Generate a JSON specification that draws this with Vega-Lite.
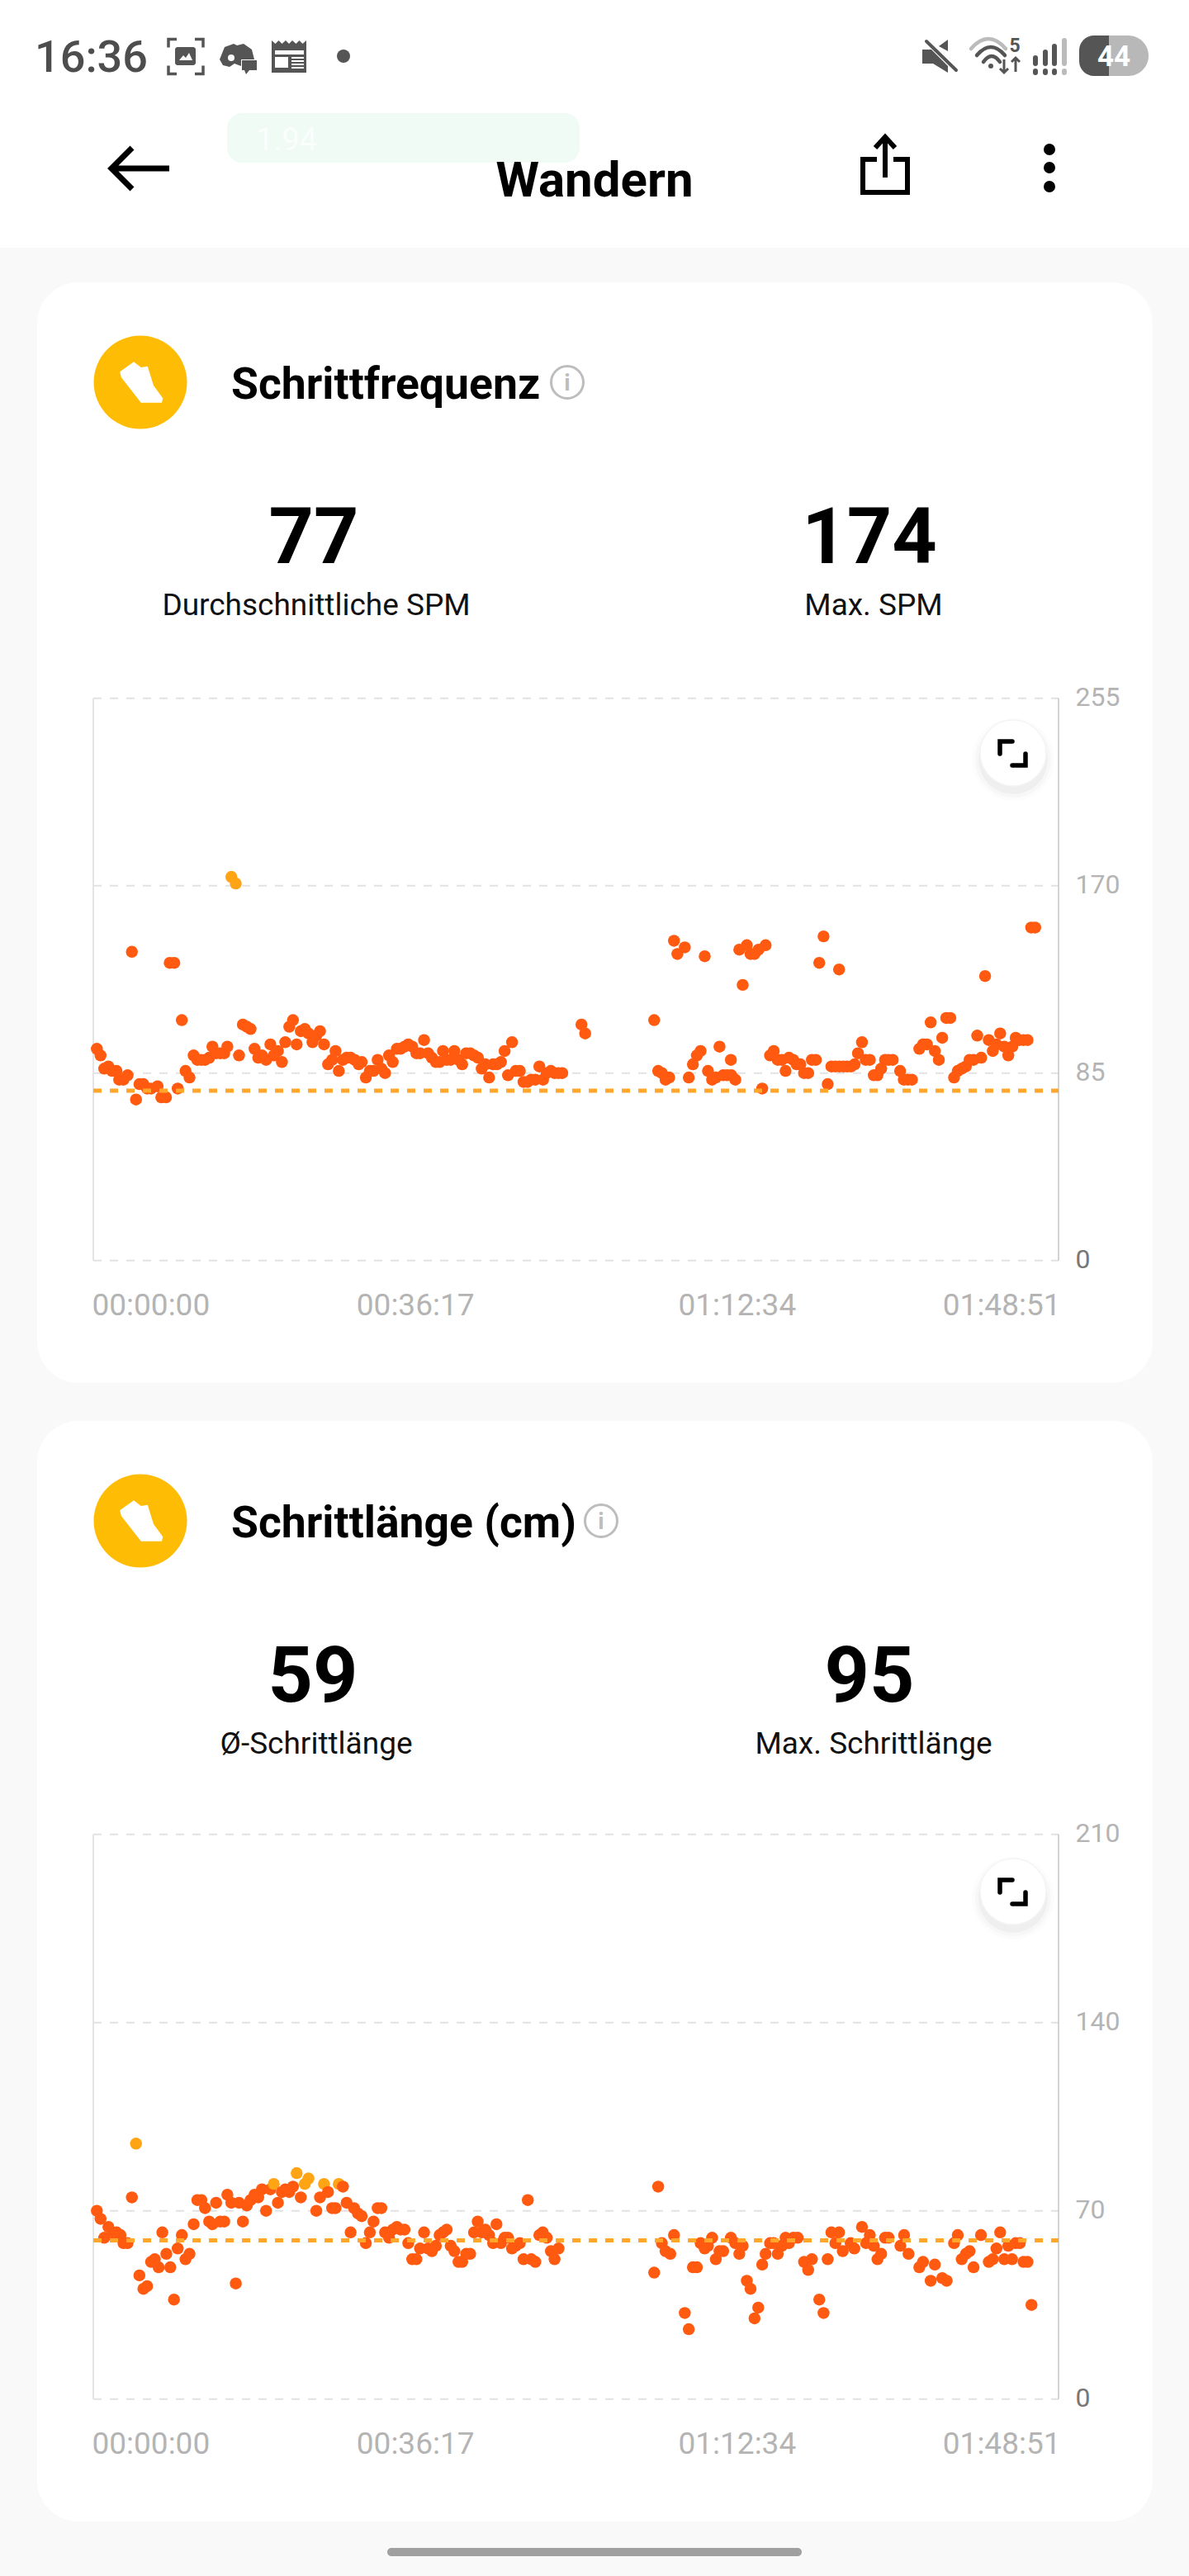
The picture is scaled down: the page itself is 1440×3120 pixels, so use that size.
{
  "$schema": "https://vega.github.io/schema/vega-lite/v6.json",
  "width": 1440,
  "height": 3120,
  "autosize": {"type": "fit", "contains": "padding"},
  "padding": 0,
  "background": "#F9F9F9",
  "config": {"view": {"stroke": null}, "font": "Roboto"},
  "data": {"values": [{}]},
  "datasets": {
    "cadence": [
      {"t":24,"v":96},{"t":49,"v":93},{"t":74,"v":87},{"t":102,"v":88},{"t":127,"v":86},{"t":157,"v":86},{"t":175,"v":82},{"t":204,"v":82},{"t":232,"v":84},{"t":261,"v":140},{"t":289,"v":73},{"t":312,"v":80},{"t":339,"v":80},{"t":364,"v":78},{"t":391,"v":78},{"t":435,"v":79},{"t":460,"v":74},{"t":492,"v":74},{"t":517,"v":135},{"t":548,"v":135},{"t":571,"v":78},{"t":599,"v":109},{"t":624,"v":86},{"t":651,"v":83},{"t":679,"v":93},{"t":704,"v":91},{"t":731,"v":91},{"t":756,"v":91},{"t":784,"v":92},{"t":806,"v":97},{"t":831,"v":94},{"t":859,"v":94},{"t":886,"v":94},{"t":907,"v":97},{"t":934,"v":174},{"t":964,"v":171},{"t":986,"v":93},{"t":1012,"v":107},{"t":1039,"v":106},{"t":1064,"v":105},{"t":1091,"v":96},{"t":1116,"v":92},{"t":1141,"v":93},{"t":1169,"v":91},{"t":1198,"v":98},{"t":1221,"v":93},{"t":1249,"v":95},{"t":1276,"v":90},{"t":1299,"v":99},{"t":1326,"v":106},{"t":1351,"v":109},{"t":1376,"v":98},{"t":1404,"v":104},{"t":1431,"v":105},{"t":1456,"v":103},{"t":1483,"v":99},{"t":1509,"v":102},{"t":1534,"v":104},{"t":1561,"v":98},{"t":1588,"v":89},{"t":1616,"v":91},{"t":1639,"v":95},{"t":1661,"v":86},{"t":1689,"v":91},{"t":1714,"v":92},{"t":1741,"v":92},{"t":1768,"v":91},{"t":1796,"v":89},{"t":1816,"v":90},{"t":1844,"v":83},{"t":1871,"v":86},{"t":1896,"v":86},{"t":1924,"v":91},{"t":1949,"v":87},{"t":1974,"v":85},{"t":2001,"v":93},{"t":2026,"v":90},{"t":2054,"v":96},{"t":2079,"v":96},{"t":2106,"v":97},{"t":2131,"v":98},{"t":2158,"v":97},{"t":2186,"v":94},{"t":2211,"v":94},{"t":2238,"v":100},{"t":2265,"v":94},{"t":2291,"v":92},{"t":2318,"v":90},{"t":2343,"v":90},{"t":2366,"v":95},{"t":2391,"v":91},{"t":2418,"v":91},{"t":2443,"v":95},{"t":2471,"v":91},{"t":2496,"v":89},{"t":2523,"v":94},{"t":2550,"v":94},{"t":2576,"v":93},{"t":2603,"v":92},{"t":2628,"v":87},{"t":2653,"v":89},{"t":2678,"v":83},{"t":2705,"v":89},{"t":2731,"v":89},{"t":2758,"v":90},{"t":2783,"v":95},{"t":2806,"v":84},{"t":2833,"v":99},{"t":2858,"v":86},{"t":2886,"v":86},{"t":2911,"v":81},{"t":2938,"v":81},{"t":2963,"v":82},{"t":2991,"v":82},{"t":3018,"v":88},{"t":3043,"v":82},{"t":3068,"v":85},{"t":3096,"v":86},{"t":3121,"v":85},{"t":3148,"v":85},{"t":3173,"v":85},{"t":3303,"v":107},{"t":3328,"v":103},
      {"t":3795,"v":109},{"t":3822,"v":86},{"t":3847,"v":85},{"t":3872,"v":82},{"t":3897,"v":83},{"t":3929,"v":145},{"t":3952,"v":139},{"t":4002,"v":142},{"t":4029,"v":83},{"t":4057,"v":89},{"t":4084,"v":93},{"t":4109,"v":95},{"t":4137,"v":138},{"t":4159,"v":86},{"t":4187,"v":82},{"t":4212,"v":83},{"t":4237,"v":97},{"t":4262,"v":84},{"t":4289,"v":84},{"t":4314,"v":91},{"t":4317,"v":84},{"t":4344,"v":82},{"t":4371,"v":141},{"t":4394,"v":125},{"t":4422,"v":143},{"t":4447,"v":139},{"t":4474,"v":139},{"t":4501,"v":141},{"t":4526,"v":78},{"t":4549,"v":143},{"t":4579,"v":93},{"t":4604,"v":95},{"t":4631,"v":91},{"t":4659,"v":91},{"t":4684,"v":86},{"t":4707,"v":92},{"t":4736,"v":91},{"t":4759,"v":89},{"t":4784,"v":89},{"t":4809,"v":85},{"t":4837,"v":85},{"t":4862,"v":91},{"t":4889,"v":91},{"t":4912,"v":135},{"t":4941,"v":147},{"t":4969,"v":80},{"t":4994,"v":88},{"t":5021,"v":88},{"t":5046,"v":132},{"t":5049,"v":88},{"t":5076,"v":88},{"t":5101,"v":88},{"t":5128,"v":88},{"t":5151,"v":89},{"t":5174,"v":94},{"t":5201,"v":99},{"t":5226,"v":91},{"t":5254,"v":91},{"t":5281,"v":84},{"t":5306,"v":84},{"t":5331,"v":87},{"t":5357,"v":91},{"t":5381,"v":91},{"t":5409,"v":91},{"t":5459,"v":86},{"t":5484,"v":82},{"t":5511,"v":82},{"t":5539,"v":82},{"t":5589,"v":96},{"t":5614,"v":98},{"t":5641,"v":98},{"t":5666,"v":108},{"t":5694,"v":95},{"t":5721,"v":91},{"t":5744,"v":101},{"t":5771,"v":110},{"t":5799,"v":110},{"t":5824,"v":83},{"t":5849,"v":86},{"t":5876,"v":87},{"t":5904,"v":88},{"t":5929,"v":91},{"t":5956,"v":91},{"t":5981,"v":102},{"t":6008,"v":92},{"t":6034,"v":129},{"t":6059,"v":100},{"t":6086,"v":95},{"t":6111,"v":98},{"t":6136,"v":103},{"t":6164,"v":97},{"t":6191,"v":93},{"t":6218,"v":97},{"t":6241,"v":101},{"t":6266,"v":100},{"t":6293,"v":100},{"t":6321,"v":100},{"t":6346,"v":151},{"t":6373,"v":151}
    ],
    "stride": [
      {"t":24,"v":70},{"t":49,"v":67},{"t":74,"v":60},{"t":102,"v":64},{"t":127,"v":61},{"t":157,"v":62},{"t":184,"v":61},{"t":204,"v":58},{"t":232,"v":58},{"t":261,"v":75},{"t":289,"v":95},{"t":312,"v":46},{"t":339,"v":41},{"t":364,"v":42},{"t":391,"v":51},{"t":416,"v":52},{"t":442,"v":49},{"t":467,"v":62},{"t":494,"v":54},{"t":521,"v":49},{"t":546,"v":37},{"t":571,"v":56},{"t":599,"v":61},{"t":624,"v":52},{"t":651,"v":54},{"t":679,"v":65},{"t":704,"v":74},{"t":731,"v":74},{"t":756,"v":71},{"t":784,"v":66},{"t":806,"v":65},{"t":831,"v":73},{"t":859,"v":66},{"t":886,"v":66},{"t":907,"v":76},{"t":934,"v":73},{"t":964,"v":43},{"t":986,"v":73},{"t":1012,"v":66},{"t":1039,"v":72},{"t":1064,"v":74},{"t":1091,"v":76},{"t":1116,"v":75},{"t":1141,"v":78},{"t":1169,"v":70},{"t":1198,"v":78},{"t":1221,"v":80},{"t":1249,"v":73},{"t":1276,"v":77},{"t":1299,"v":78},{"t":1326,"v":77},{"t":1351,"v":79},{"t":1376,"v":84},{"t":1404,"v":75},{"t":1431,"v":80},{"t":1456,"v":82},{"t":1509,"v":70},{"t":1534,"v":75},{"t":1561,"v":80},{"t":1588,"v":77},{"t":1616,"v":71},{"t":1639,"v":71},{"t":1661,"v":80},{"t":1689,"v":79},{"t":1714,"v":73},{"t":1741,"v":62},{"t":1764,"v":71},{"t":1791,"v":69},{"t":1816,"v":68},{"t":1844,"v":58},{"t":1871,"v":62},{"t":1896,"v":66},{"t":1924,"v":71},{"t":1949,"v":71},{"t":1974,"v":62},{"t":2001,"v":60},{"t":2026,"v":63},{"t":2054,"v":64},{"t":2079,"v":63},{"t":2106,"v":63},{"t":2131,"v":58},{"t":2158,"v":52},{"t":2186,"v":52},{"t":2211,"v":56},{"t":2238,"v":62},{"t":2265,"v":56},{"t":2291,"v":55},{"t":2318,"v":57},{"t":2343,"v":61},{"t":2366,"v":62},{"t":2391,"v":63},{"t":2418,"v":57},{"t":2443,"v":55},{"t":2471,"v":51},{"t":2496,"v":51},{"t":2523,"v":54},{"t":2550,"v":54},{"t":2576,"v":62},{"t":2601,"v":66},{"t":2628,"v":62},{"t":2653,"v":63},{"t":2678,"v":61},{"t":2705,"v":58},{"t":2728,"v":65},{"t":2758,"v":58},{"t":2783,"v":60},{"t":2806,"v":60},{"t":2833,"v":56},{"t":2858,"v":57},{"t":2886,"v":58},{"t":2911,"v":52},{"t":2940,"v":74},{"t":2963,"v":52},{"t":2991,"v":51},{"t":3018,"v":61},{"t":3041,"v":62},{"t":3068,"v":60},{"t":3096,"v":55},{"t":3121,"v":52},{"t":3148,"v":56},
      {"t":3795,"v":47},{"t":3822,"v":79},{"t":3847,"v":58},{"t":3872,"v":55},{"t":3904,"v":54},{"t":3929,"v":61},{"t":4002,"v":32},{"t":4029,"v":26},{"t":4057,"v":49},{"t":4084,"v":49},{"t":4109,"v":58},{"t":4137,"v":56},{"t":4159,"v":57},{"t":4187,"v":60},{"t":4212,"v":52},{"t":4237,"v":55},{"t":4262,"v":55},{"t":4314,"v":60},{"t":4344,"v":58},{"t":4371,"v":54},{"t":4394,"v":57},{"t":4422,"v":44},{"t":4447,"v":41},{"t":4474,"v":30},{"t":4499,"v":34},{"t":4526,"v":50},{"t":4549,"v":54},{"t":4579,"v":58},{"t":4604,"v":58},{"t":4631,"v":54},{"t":4659,"v":57},{"t":4684,"v":60},{"t":4707,"v":58},{"t":4736,"v":60},{"t":4766,"v":60},{"t":4809,"v":51},{"t":4837,"v":48},{"t":4862,"v":52},{"t":4912,"v":37},{"t":4941,"v":32},{"t":4969,"v":52},{"t":4994,"v":62},{"t":5021,"v":58},{"t":5046,"v":62},{"t":5071,"v":55},{"t":5124,"v":58},{"t":5149,"v":56},{"t":5201,"v":64},{"t":5229,"v":58},{"t":5254,"v":61},{"t":5281,"v":57},{"t":5306,"v":52},{"t":5331,"v":54},{"t":5357,"v":60},{"t":5381,"v":60},{"t":5461,"v":57},{"t":5486,"v":61},{"t":5516,"v":54},{"t":5589,"v":49},{"t":5614,"v":51},{"t":5666,"v":44},{"t":5694,"v":50},{"t":5744,"v":45},{"t":5774,"v":44},{"t":5824,"v":58},{"t":5849,"v":61},{"t":5876,"v":52},{"t":5904,"v":54},{"t":5929,"v":55},{"t":5956,"v":49},{"t":6006,"v":61},{"t":6059,"v":51},{"t":6086,"v":52},{"t":6111,"v":56},{"t":6136,"v":62},{"t":6164,"v":52},{"t":6191,"v":57},{"t":6216,"v":52},{"t":6241,"v":58},{"t":6269,"v":58},{"t":6294,"v":51},{"t":6321,"v":51},{"t":6348,"v":35}
    ]
  },
  "resolve": {"scale": {"x": "independent", "y": "independent", "color": "independent"}},
  "layer": [
    {"mark": {"type": "rect", "color": "#FFFFFF"}, "encoding": {"x": {"value": 0}, "x2": {"value": 1440}, "y": {"value": 0}, "y2": {"value": 300}}},
    {"mark": {"type": "rect", "color": "#F0FBF6", "cornerRadius": 18}, "encoding": {"x": {"value": 275}, "x2": {"value": 702}, "y": {"value": 137}, "y2": {"value": 197}}},
    {"mark": {"type": "rect", "color": "#FFFFFF", "cornerRadius": 50}, "encoding": {"x": {"value": 45}, "x2": {"value": 1396}, "y": {"value": 342}, "y2": {"value": 1675}}},
    {"mark": {"type": "rect", "color": "#FFFFFF", "cornerRadius": 50}, "encoding": {"x": {"value": 45}, "x2": {"value": 1396}, "y": {"value": 1721}, "y2": {"value": 3054}}},
    {"mark": {"type": "rect", "color": "#A0A0A0", "cornerRadius": 5}, "encoding": {"x": {"value": 469}, "x2": {"value": 971}, "y": {"value": 3086}, "y2": {"value": 3096}}},

    {"mark": {"type": "text", "text": "16:36", "x": 42, "y": 87, "align": "left", "baseline": "alphabetic", "fontSize": 54, "fontWeight": 500, "color": "#4D4D4D"}},
    {"mark": {"type": "point", "shape": "M-0.42,-0.22L-0.42,-0.42L-0.22,-0.42M0.22,-0.42L0.42,-0.42L0.42,-0.22M0.42,0.22L0.42,0.42L0.22,0.42M-0.22,0.42L-0.42,0.42L-0.42,0.22", "x": 225, "y": 68.5, "size": 10000, "filled": false, "stroke": "#555555", "strokeWidth": 3.5, "opacity": 1}},
    {"mark": {"type": "rect", "color": "#555555", "cornerRadius": 3}, "encoding": {"x": {"value": 212}, "x2": {"value": 237}, "y": {"value": 57}, "y2": {"value": 79}}},
    {"mark": {"type": "point", "shape": "M-0.16,0.1L-0.06,-0.02L0,0.04L0.08,-0.08L0.16,0.1Z", "x": 225, "y": 68, "size": 10000, "filled": true, "color": "#FFFFFF", "opacity": 1}},
    {"mark": {"type": "point", "shape": "M-0.42,0.08L-0.3,-0.22L-0.08,-0.3L0,-0.26L0.16,-0.3L0.36,-0.16L0.42,0.08L0.1,0.08L0.1,0.24L-0.06,0.18L-0.18,0.26L-0.34,0.22ZM0.12,0.1L0.48,0.1L0.48,0.34L0.3,0.34L0.22,0.44L0.18,0.34L0.12,0.34Z", "x": 287, "y": 68, "size": 10000, "filled": true, "color": "#555555", "opacity": 1}},
    {"mark": {"type": "circle", "x": 280, "y": 70, "size": 64, "color": "#FFFFFF", "opacity": 1}},
    {"mark": {"type": "point", "shape": "M-0.42,-0.38L-0.33,-0.3L-0.25,-0.38L-0.17,-0.3L-0.08,-0.38L0,-0.3L0.08,-0.38L0.17,-0.3L0.25,-0.38L0.33,-0.3L0.42,-0.38L0.42,0.4L-0.42,0.4ZM-0.34,-0.14L-0.34,-0.04L0.36,-0.04L0.36,-0.14ZM-0.34,0.02L-0.34,0.28L-0.02,0.28L-0.02,0.02ZM0.06,0.02L0.06,0.06L0.36,0.06L0.36,0.02ZM0.06,0.1L0.06,0.14L0.36,0.14L0.36,0.1ZM0.06,0.18L0.06,0.22L0.36,0.22L0.36,0.18ZM0.06,0.26L0.06,0.3L0.36,0.3L0.36,0.26Z", "x": 350, "y": 68, "size": 10000, "filled": true, "color": "#555555", "opacity": 1}},
    {"mark": {"type": "circle", "x": 416, "y": 68, "size": 256, "color": "#555555", "opacity": 1}},

    {"mark": {"type": "point", "shape": "M-0.32,-0.16L-0.1,-0.16L0.3,0.24L0.3,0.4L-0.06,0.18L-0.32,0.18ZM0.08,-0.24L0.3,-0.4L0.3,-0.12Z", "x": 1133, "y": 68, "size": 10000, "filled": true, "color": "#555555", "opacity": 1}},
    {"mark": {"type": "point", "shape": "M-0.22,-0.36L0.5,0.34", "x": 1133, "y": 68, "size": 10000, "filled": false, "stroke": "#555555", "strokeWidth": 4, "strokeCap": "round", "opacity": 1}},
    {"mark": {"type": "point", "shape": "M-0.48,-0.18Q-0.06,-0.66,0.36,-0.18", "x": 1200, "y": 68, "size": 10000, "filled": false, "stroke": "#BBBBBB", "strokeWidth": 4.5, "strokeCap": "round", "opacity": 1}},
    {"mark": {"type": "point", "shape": "M-0.34,-0.02Q0,-0.42,0.34,-0.02M-0.18,0.14Q0.02,-0.14,0.22,0.14", "x": 1200, "y": 68, "size": 10000, "filled": false, "stroke": "#555555", "strokeWidth": 4.5, "strokeCap": "round", "opacity": 1}},
    {"mark": {"type": "point", "shape": "M0.32,0.08L0.32,0.4M0.22,0.3L0.32,0.4L0.42,0.3M0.6,0.38L0.6,0.04M0.5,0.14L0.6,0.04L0.7,0.14", "x": 1200, "y": 68, "size": 10000, "filled": false, "stroke": "#555555", "strokeWidth": 3, "opacity": 1}},
    {"mark": {"type": "circle", "x": 1200, "y": 80, "size": 36, "color": "#555555", "opacity": 1}},
    {"mark": {"type": "text", "text": "5", "x": 1229, "y": 63, "align": "center", "baseline": "alphabetic", "fontSize": 23, "fontWeight": "bold", "color": "#555555"}},
    {"mark": {"type": "point", "shape": "M-0.36,0.18L-0.36,0.04M-0.12,0.18L-0.12,-0.1M0.1,0.18L0.1,-0.24M-0.36,0.36L-0.36,0.4M-0.12,0.36L-0.12,0.4M0.1,0.36L0.1,0.4", "x": 1272, "y": 68, "size": 10000, "filled": false, "stroke": "#555555", "strokeWidth": 6, "strokeCap": "round", "opacity": 1}},
    {"mark": {"type": "point", "shape": "M0.34,0.18L0.34,-0.38M0.34,0.36L0.34,0.4", "x": 1272, "y": 68, "size": 10000, "filled": false, "stroke": "#BBBBBB", "strokeWidth": 6, "strokeCap": "round", "opacity": 1}},
    {"mark": {"type": "rect", "color": "#B8B8B8", "cornerRadius": 24.5}, "encoding": {"x": {"value": 1307}, "x2": {"value": 1391}, "y": {"value": 43}, "y2": {"value": 92}}},
    {"mark": {"type": "rect", "color": "#555555", "cornerRadiusTopLeft": 24.5, "cornerRadiusBottomLeft": 24.5}, "encoding": {"x": {"value": 1307}, "x2": {"value": 1343}, "y": {"value": 43}, "y2": {"value": 92}}},
    {"mark": {"type": "text", "text": "44", "x": 1349, "y": 80, "align": "center", "baseline": "alphabetic", "fontSize": 35, "fontWeight": "bold", "color": "#FFFFFF"}},

    {"mark": {"type": "text", "text": "1.94", "x": 310, "y": 182, "align": "left", "baseline": "alphabetic", "fontSize": 38, "color": "#FAFEFC"}},
    {"mark": {"type": "point", "shape": "M0.7,0L-0.68,0M-0.2,-0.5L-0.7,0L-0.2,0.5", "x": 170, "y": 204, "size": 10000, "filled": false, "stroke": "#000000", "strokeWidth": 7, "opacity": 1}},
    {"mark": {"type": "text", "text": "Wandern", "x": 720, "y": 238, "align": "center", "baseline": "alphabetic", "fontSize": 60, "fontWeight": "bold", "color": "#000000"}},
    {"mark": {"type": "point", "shape": "M-0.2,-0.14L-0.54,-0.14L-0.54,0.66L0.54,0.66L0.54,-0.14L0.2,-0.14M0,0.3L0,-0.68M-0.24,-0.42L0,-0.68L0.24,-0.42", "x": 1072, "y": 200, "size": 10000, "filled": false, "stroke": "#000000", "strokeWidth": 6, "opacity": 1}},
    {"mark": {"type": "circle", "x": 1271, "y": 181, "size": 196, "color": "#000000", "opacity": 1}},
    {"mark": {"type": "circle", "x": 1271, "y": 203, "size": 196, "color": "#000000", "opacity": 1}},
    {"mark": {"type": "circle", "x": 1271, "y": 226, "size": 196, "color": "#000000", "opacity": 1}},

    {"mark": {"type": "circle", "x": 170, "y": 463, "size": 12769, "color": "#FFBC05", "opacity": 1}},
    {"mark": {"type": "point", "shape": "M-0.62,-0.32L-0.2,-0.62L0.02,-0.45L0.22,-0.48L0.4,0.1L0.68,0.48L0.65,0.62L0.02,0.62L-0.58,-0.15Z", "x": 170, "y": 463, "size": 6400, "filled": true, "color": "#FFFFFF", "opacity": 1}},
    {"mark": {"type": "text", "text": "Schrittfrequenz", "x": 280, "y": 483, "align": "left", "baseline": "alphabetic", "fontSize": 53.5, "fontWeight": "bold", "color": "#000000"}},
    {"mark": {"type": "point", "x": 687, "y": 463, "shape": "circle", "size": 1521, "filled": false, "stroke": "#BDBDBD", "strokeWidth": 3, "opacity": 1}},
    {"mark": {"type": "text", "text": "i", "x": 687, "y": 473, "align": "center", "baseline": "alphabetic", "fontSize": 28, "fontWeight": "bold", "color": "#BDBDBD"}},
    {"mark": {"type": "text", "text": "77", "x": 380, "y": 682, "align": "center", "baseline": "alphabetic", "fontSize": 95, "fontWeight": "bold", "color": "#000000"}},
    {"mark": {"type": "text", "text": "174", "x": 1053, "y": 682, "align": "center", "baseline": "alphabetic", "fontSize": 95, "fontWeight": "bold", "color": "#000000"}},
    {"mark": {"type": "text", "text": "Durchschnittliche SPM", "x": 383, "y": 745, "align": "center", "baseline": "alphabetic", "fontSize": 37, "color": "#111111"}},
    {"mark": {"type": "text", "text": "Max. SPM", "x": 1058, "y": 745, "align": "center", "baseline": "alphabetic", "fontSize": 37, "color": "#111111"}},

    {"mark": {"type": "circle", "x": 170, "y": 1842, "size": 12769, "color": "#FFBC05", "opacity": 1}},
    {"mark": {"type": "point", "shape": "M-0.62,-0.32L-0.2,-0.62L0.02,-0.45L0.22,-0.48L0.4,0.1L0.68,0.48L0.65,0.62L0.02,0.62L-0.58,-0.15Z", "x": 170, "y": 1842, "size": 6400, "filled": true, "color": "#FFFFFF", "opacity": 1}},
    {"mark": {"type": "text", "text": "Schrittlänge (cm)", "x": 280, "y": 1862, "align": "left", "baseline": "alphabetic", "fontSize": 53.5, "fontWeight": "bold", "color": "#000000"}},
    {"mark": {"type": "point", "x": 728, "y": 1842, "shape": "circle", "size": 1521, "filled": false, "stroke": "#BDBDBD", "strokeWidth": 3, "opacity": 1}},
    {"mark": {"type": "text", "text": "i", "x": 728, "y": 1852, "align": "center", "baseline": "alphabetic", "fontSize": 28, "fontWeight": "bold", "color": "#BDBDBD"}},
    {"mark": {"type": "text", "text": "59", "x": 379, "y": 2061, "align": "center", "baseline": "alphabetic", "fontSize": 95, "fontWeight": "bold", "color": "#000000"}},
    {"mark": {"type": "text", "text": "95", "x": 1053, "y": 2061, "align": "center", "baseline": "alphabetic", "fontSize": 95, "fontWeight": "bold", "color": "#000000"}},
    {"mark": {"type": "text", "text": "Ø-Schrittlänge", "x": 383, "y": 2124, "align": "center", "baseline": "alphabetic", "fontSize": 37, "color": "#111111"}},
    {"mark": {"type": "text", "text": "Max. Schrittlänge", "x": 1058, "y": 2124, "align": "center", "baseline": "alphabetic", "fontSize": 37, "color": "#111111"}},

    {
      "encoding": {
        "x": {"field": "t", "type": "quantitative", "scale": {"domain": [0, 6531], "range": [113, 1282]}, "axis": {"orient": "bottom", "offset": -1593.3, "values": [0, 2177, 4354, 6531], "title": null, "domain": false, "ticks": false, "grid": false, "zindex": 1, "labelFontSize": 37, "labelPadding": 37, "labelColor": "#B4B4B4", "labelFlush": true, "labelFlushOffset": 2, "labelOverlap": false, "labelExpr": "utcFormat(datum.value * 1000, '%H:%M:%S')"}},
        "y": {"field": "v", "type": "quantitative", "scale": {"domain": [0, 255], "range": [1526.7, 845.7]}, "axis": {"orient": "right", "offset": -158, "values": [0, 85, 170, 255], "title": null, "domain": false, "ticks": false, "grid": false, "zindex": 1, "labelFontSize": 32, "labelPadding": 20, "labelOffset": -1, "labelColor": {"condition": {"test": "datum.value === 0", "value": "#777777"}, "value": "#B4B4B4"}}}
      },
      "layer": [
        {
          "data": {"values": [{"t": 0, "t2": 6531, "v": 0}, {"t": 0, "t2": 6531, "v": 85}, {"t": 0, "t2": 6531, "v": 170}, {"t": 0, "t2": 6531, "v": 255}]},
          "mark": {"type": "rule", "color": "#E2E2E2", "strokeWidth": 2, "strokeDash": [10, 10]},
          "encoding": {"x2": {"field": "t2"}}
        },
        {
          "data": {"values": [{"t": 0, "v": 0, "v2": 255}]},
          "mark": {"type": "rule", "color": "#E4E4E4", "strokeWidth": 2},
          "encoding": {"y2": {"field": "v2"}}
        },
        {
          "data": {"values": [{"t": 6531, "v": 0, "v2": 255}]},
          "mark": {"type": "rule", "color": "#C6C6C6", "strokeWidth": 1.5},
          "encoding": {"y2": {"field": "v2"}}
        },
        {
          "data": {"name": "cadence"},
          "mark": {"type": "circle", "size": 210, "opacity": 1},
          "encoding": {"color": {"field": "v", "type": "quantitative", "scale": {"type": "threshold", "domain": [165], "range": ["#FF5A10", "#FFA414"]}, "legend": null}}
        },
        {
          "data": {"values": [{"t": 0, "t2": 6531, "v": 77}]},
          "mark": {"type": "rule", "color": "#FFA62B", "strokeWidth": 5, "strokeDash": [10, 10]},
          "encoding": {"x2": {"field": "t2"}}
        }
      ]
    },
    {
      "encoding": {
        "x": {"field": "t", "type": "quantitative", "scale": {"domain": [0, 6531], "range": [113, 1282]}, "axis": {"orient": "bottom", "offset": -214.3, "values": [0, 2177, 4354, 6531], "title": null, "domain": false, "ticks": false, "grid": false, "zindex": 1, "labelFontSize": 37, "labelPadding": 37, "labelColor": "#B4B4B4", "labelFlush": true, "labelFlushOffset": 2, "labelOverlap": false, "labelExpr": "utcFormat(datum.value * 1000, '%H:%M:%S')"}},
        "y": {"field": "v", "type": "quantitative", "scale": {"domain": [0, 210], "range": [2905.7, 2221.7]}, "axis": {"orient": "right", "offset": -158, "values": [0, 70, 140, 210], "title": null, "domain": false, "ticks": false, "grid": false, "zindex": 1, "labelFontSize": 32, "labelPadding": 20, "labelOffset": -1, "labelColor": {"condition": {"test": "datum.value === 0", "value": "#777777"}, "value": "#B4B4B4"}}}
      },
      "layer": [
        {
          "data": {"values": [{"t": 0, "t2": 6531, "v": 0}, {"t": 0, "t2": 6531, "v": 70}, {"t": 0, "t2": 6531, "v": 140}, {"t": 0, "t2": 6531, "v": 210}]},
          "mark": {"type": "rule", "color": "#E2E2E2", "strokeWidth": 2, "strokeDash": [10, 10]},
          "encoding": {"x2": {"field": "t2"}}
        },
        {
          "data": {"values": [{"t": 0, "v": 0, "v2": 210}]},
          "mark": {"type": "rule", "color": "#E4E4E4", "strokeWidth": 2},
          "encoding": {"y2": {"field": "v2"}}
        },
        {
          "data": {"values": [{"t": 6531, "v": 0, "v2": 210}]},
          "mark": {"type": "rule", "color": "#C6C6C6", "strokeWidth": 1.5},
          "encoding": {"y2": {"field": "v2"}}
        },
        {
          "data": {"name": "stride"},
          "mark": {"type": "circle", "size": 210, "opacity": 1},
          "encoding": {"color": {"field": "v", "type": "quantitative", "scale": {"type": "threshold", "domain": [79.5], "range": ["#FF5A10", "#FFA414"]}, "legend": null}}
        },
        {
          "data": {"values": [{"t": 0, "t2": 6531, "v": 59}]},
          "mark": {"type": "rule", "color": "#FFA62B", "strokeWidth": 5, "strokeDash": [10, 10]},
          "encoding": {"x2": {"field": "t2"}}
        }
      ]
    },

    {"mark": {"type": "circle", "x": 1227, "y": 920, "size": 10000, "color": "#000000", "opacity": 0.012}},
    {"mark": {"type": "circle", "x": 1227, "y": 920, "size": 8464, "color": "#000000", "opacity": 0.02}},
    {"mark": {"type": "circle", "x": 1227, "y": 920, "size": 7056, "color": "#000000", "opacity": 0.03}},
    {"mark": {"type": "circle", "x": 1227, "y": 912, "size": 6400, "color": "#FFFFFF", "stroke": "#F4F4F4", "strokeWidth": 1.5, "opacity": 1}},
    {"mark": {"type": "point", "shape": "M-0.32,0.02L-0.32,-0.28L-0.02,-0.28M0.3,0.02L0.3,0.3L-0.02,0.3", "x": 1227, "y": 912, "size": 10000, "filled": false, "stroke": "#000000", "strokeWidth": 5.5, "strokeCap": "round", "opacity": 1}},
    {"mark": {"type": "circle", "x": 1227, "y": 2299, "size": 10000, "color": "#000000", "opacity": 0.012}},
    {"mark": {"type": "circle", "x": 1227, "y": 2299, "size": 8464, "color": "#000000", "opacity": 0.02}},
    {"mark": {"type": "circle", "x": 1227, "y": 2299, "size": 7056, "color": "#000000", "opacity": 0.03}},
    {"mark": {"type": "circle", "x": 1227, "y": 2291, "size": 6400, "color": "#FFFFFF", "stroke": "#F4F4F4", "strokeWidth": 1.5, "opacity": 1}},
    {"mark": {"type": "point", "shape": "M-0.32,0.02L-0.32,-0.28L-0.02,-0.28M0.3,0.02L0.3,0.3L-0.02,0.3", "x": 1227, "y": 2291, "size": 10000, "filled": false, "stroke": "#000000", "strokeWidth": 5.5, "strokeCap": "round", "opacity": 1}}
  ]
}
